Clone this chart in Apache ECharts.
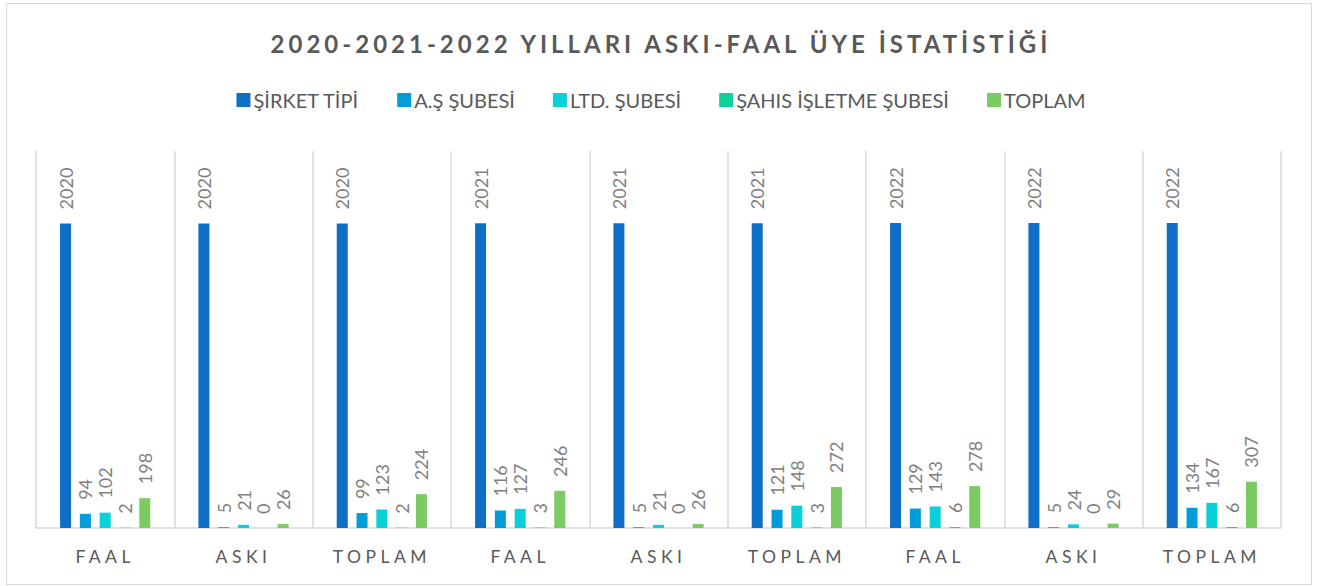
<!DOCTYPE html>
<html lang="tr">

<head>
    <meta charset="UTF-8" />
    <title>Askı-Faal Üye İstatistiği</title>
    <script src="https://cdn.jsdelivr.net/npm/echarts@6/dist/echarts.min.js"></script>
    <style>
        html, body { margin: 0; padding: 0; background: #fff; }
        /* spaced-out capitals like the original: title (24px) and category labels (17.5px) */
        #main text[style*="24px"] { letter-spacing: 4px; }
        #main text[style*="17.5px"] { letter-spacing: 4.5px; }
    </style>
</head>

<body>
    <div id="main" style="width: 1322px; height: 586px;"></div>

    <script>
        const categories = ['FAAL', 'ASKI', 'TOPLAM', 'FAAL', 'ASKI', 'TOPLAM', 'FAAL', 'ASKI', 'TOPLAM'];
        const seriesNames = ['ŞİRKET TİPİ', 'A.Ş ŞUBESİ', 'LTD. ŞUBESİ', 'ŞAHIS İŞLETME ŞUBESİ', 'TOPLAM'];
        const sirketTipi = [2020, 2020, 2020, 2021, 2021, 2021, 2022, 2022, 2022];
        const asSubesi = [94, 5, 99, 116, 5, 121, 129, 5, 134];
        const ltdSubesi = [102, 21, 123, 127, 21, 148, 143, 24, 167];
        const sahisSubesi = [2, 0, 2, 3, 0, 3, 6, 0, 6];
        const toplam = [198, 26, 224, 246, 26, 272, 278, 29, 307];
        const colors = ['#0F6FC6', '#009DD9', '#0BD0D9', '#10CF9B', '#7CCA62'];

        const FONT = 'Lato, "Open Sans", sans-serif';
        const chart = echarts.init(document.getElementById('main'), null, { renderer: 'svg' });

        const allData = [sirketTipi, asSubesi, ltdSubesi, sahisSubesi, toplam];

        const options = {
            color: colors,
            textStyle: { fontFamily: FONT },
            graphic: [{
                type: 'rect',
                shape: { x: 6.5, y: 3.5, width: 1305, height: 581 },
                style: { fill: 'none', stroke: '#d9d9d9', lineWidth: 1 },
                silent: true
            }],
            title: {
                text: '2020-2021-2022 YILLARI ASKI-FAAL ÜYE İSTATİSTİĞİ',
                left: 'center',
                top: 26,
                textStyle: { fontFamily: FONT, fontSize: 24, fontWeight: 'bold', color: '#595959' }
            },
            legend: {
                top: 85,
                left: 'center',
                itemWidth: 14,
                itemHeight: 14,
                itemGap: 38,
                icon: 'rect',
                textStyle: { fontFamily: FONT, fontSize: 20, color: '#595959', padding: [0, 0, 0, -2] },
                data: seriesNames
            },
            grid: { left: 36, right: 41, top: 151, bottom: 58, containLabel: false },
            xAxis: {
                type: 'category',
                data: categories,
                axisLine: { lineStyle: { color: '#d9d9d9', width: 1.5 } },
                axisTick: { show: false },
                splitLine: { show: true, lineStyle: { color: '#d9d9d9', width: 1.5 } },
                axisLabel: { fontFamily: FONT, fontSize: 17.5, color: '#595959', margin: 19 }
            },
            yAxis: {
                type: 'value',
                min: 0,
                max: 2500,
                show: false,
                splitLine: { show: false }
            },
            series: seriesNames.map((name, i) => ({
                name: name,
                type: 'bar',
                data: allData[i],
                barWidth: 11,
                barGap: '80%',
                label: {
                    show: true,
                    position: 'top',
                    rotate: 90,
                    align: 'left',
                    verticalAlign: 'middle',
                    distance: 14,
                    fontFamily: FONT,
                    fontSize: 18,
                    color: '#7f7f7f'
                }
            }))
        };

        chart.setOption(options);
    </script>
</body>

</html>
